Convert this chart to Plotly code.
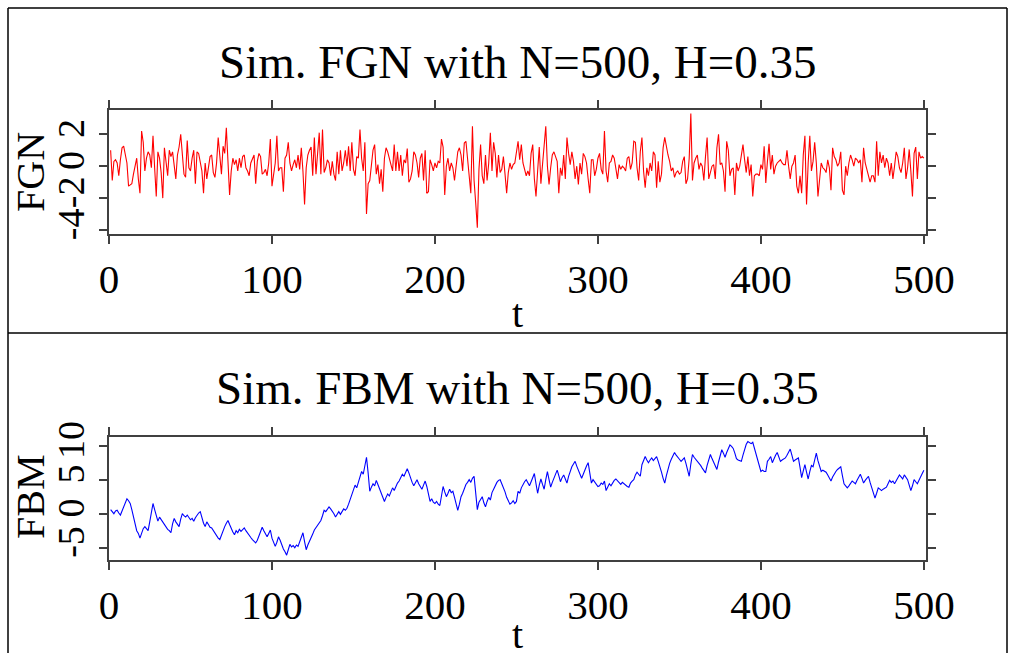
import plotly.graph_objects as go

# ---------------- data ----------------
fgn = [
    1.0, -0.9, 0.3, 0.4, 0.2, -0.6, 0.4, 1.15, 1.25, 0.6,
    0.2, -1.25, -1.2, -1.1, -0.5, 0.1, 0.5, -0.8, -1.7, 2.2,
    1.5, -0.3, 0.5, 0.9, 0.7, -0.1, 1.9, -0.1, -1.9, 0.9,
    0.5, -0.4, -2.0, 1.15, 0.1, -0.6, 1.0, 0.6, 0.9, 0.2,
    -0.8, 0.7, 1.2, 2.0, 0.5, -0.5, -0.7, 1.6, -0.1, -0.3,
    0.5, 1.0, -1.1, 0.9, 0.8, 0.2, -0.3, -1.7, 0.2, -0.8,
    -0.1, 0.6, 0.7, -0.4, -0.7, 0.2, 1.8, 0.7, -0.5, 1.25,
    0.8, 2.4, 0.3, -1.8, -0.3, 0.5, 0.1, 0.4, -0.3, 0.5,
    -0.1, 0.6, 0.7, -0.1,
    -0.3, -0.6, 0.2, 0.5, 0.7, -1.1, 0.3, 0.8, 0.6, -0.5,
    -0.4, -0.2, -0.6, 0.2, 1.7, -1.25, -0.5, 0.2, 1.9, -0.3,
    -0.1, -0.1, -1.6, 0.5, 0.7, 1.5, 0.2, -0.3, 0.1, 0.4,
    -0.1, 0.7, -0.2, 1.15, -0.3, -2.4, -0.1, 0.7, 1.0, 1.2,
    -0.6, 1.8, -0.5, 1.15, 2.1, -0.5, 2.3, -0.4, -0.1, 0.4,
    0.2, -0.6, 0.3, -0.5, -0.9, 0.9, -0.5, 1.0, -0.3, 0.2,
    1.0, 0.0, 1.25, -0.3, 1.5, -0.2, -0.6, 0.6, 0.5, 2.3,
    0.5, -0.3, 1.5, -3.0, -1.1, -0.9, 0.2, 1.0, 1.35, -0.5,
    0.1, -1.1, -0.2, -1.6, 0.5, 1.15,
    0.9, 0.4, 0.1, -0.3, 1.35, -0.3, 0.9, -0.3, 0.7, -0.6,
    0.4, 0.2, 1.1, -1.0, -0.8, -0.3, 0.9, 0.7, 0.2, -0.7,
    0.5, 0.8, -0.9, 1.0, -1.7, -1.6, 0.4, 0.1, -0.3, 0.2,
    -0.1, 0.3, 0.2, 1.7, 1.2, -1.8, 0.0, 0.5, -0.3, 0.2,
    -0.1, -0.9, 0.0, 0.9, 1.15, 0.7, -0.3, 1.45, 1.56, 0.5,
    -0.2, -1.7, 2.5, -0.9, -2.3, -3.85, -0.2, 1.35, -0.6, -1.1,
    0.7, -0.9, 0.2, 2.1, -0.3, 1.5, 0.8, -0.7, 0.7, -0.4,
    -0.2, 0.6, -0.5, -1.7, -0.4, 0.2, -0.2, 0.1, 0.2, 0.9,
    1.56, 0.4, 1.35, 0.2, -0.2,
    -0.6, -0.3, -0.6, 0.8, 1.35, -0.8, -1.9, -0.3, 1.2, -1.1,
    0.1, 1.6, 2.5, 0.0, -1.15, -0.1, 0.7, 0.9, 0.6, 0.3,
    -1.7, -0.1, -0.6, 0.7, -0.8, 1.8, 0.8, 0.1, 0.9, 0.3,
    -0.8, 0.0, -1.15, 0.2, -0.5, 0.8, 0.6, 0.2, -0.8, -1.7,
    0.4, 0.4, -0.6, -0.2, 0.5, 0.8, -0.2, -0.5, 2.2, -0.3,
    -1.0, 0.2, 0.3, 0.7, 0.5, -0.3, -0.8, 0.1, -0.2, 0.0,
    -0.1, -0.3, 0.5, 0.6, -0.2, 0.2, 1.56, 1.5, -0.1, -0.9,
    0.9, 1.8, -0.3, -1.35, -0.1, -0.6, 0.2, -0.3, 0.9, 0.7,
    -1.35, 0.3, -1.0, -0.5, 1.15, 1.8,
    1.1, 0.7, 0.3, -0.3, -0.1, -0.7, -0.4, -0.3, -0.5, -0.4,
    0.3, 0.6, -1.1, -0.8, 0.5, 3.3, -0.9, 0.2, 0.5, 0.7,
    -0.2, 0.2, 0.0, -0.9, 0.6, 1.8, -0.8, -0.3, 0.0, 0.1,
    -0.8, 1.15, 2.0, 0.1, 0.2, -0.3, -1.6, 1.56, 1.0, -0.6,
    -0.2, -0.1, -1.8, 0.2, -0.3, 0.0, 0.6, 1.35, 0.4, -0.4,
    0.6, -0.6, 0.1, -1.9, -0.6, -0.5, -0.5, -0.6, 0.1, -0.2,
    1.25, -1.05, 0.3, 1.4, -0.2, 0.7, -0.5, 0.0, 0.2, 0.3,
    0.4, 0.2, 0.1, 0.1, 1.0, 0.0, -0.8, 0.0, 0.2, 0.7,
    -1.25, -1.7, -0.6,
    -1.7, 0.7, 1.9, -2.4, 0.2, 1.9, -0.3, 0.3, 1.5, 0.2,
    -1.9, -0.9, 0.2, -0.1, -0.2, -0.4, 0.4, -0.1, -1.5, 1.15,
    0.6, 0.4, 0.0, 0.2, 0.9, -1.5, -1.8, 0.0, -0.6, 0.2,
    0.7, 0.4, 0.0, 0.5, 0.4, 0.2, 0.4, -1.0, 1.15, 0.2,
    -0.2, -0.6, -1.0, -0.6, -0.6, -1.0, 1.56, -0.6, 0.9, 0.2,
    0.7, -0.1, 0.5, 0.2, -0.6, 0.2, -0.8, 0.0, 0.9, 0.6,
    -0.1, -0.4, 0.2, 1.15, -0.8, -0.1, 1.05, -0.3, -1.9, 0.8,
    1.2, -0.8, 0.9, 0.5, 0.6, 0.5,
]

fbm = [
    0.6, 0.3, 0.0, 0.4, 0.5, 0.1, -0.2, 0.4, 1.0, 1.6,
    2.2, 1.9, 1.5, 0.6, -0.5, -1.4, -2.5, -2.9, -3.6, -2.9,
    -2.2, -1.9, -2.3, -2.5, -1.2, 0.2, 1.5, 0.6, -0.3, -1.1,
    -0.5, -0.9, -1.2, -1.5, -1.9, -2.3, -2.5, -2.8, -1.5, -0.7,
    -1.2, -1.6, -1.9, -0.8, 0.0, -0.3, -0.5, -0.2, -0.6, -0.9,
    -0.7, -1.1, -0.6, -0.2, 0.1, 0.3, -0.7, -1.4, -1.9, -1.2,
    -1.6, -2.0, -2.1, -2.5, -2.9, -3.3, -3.6, -3.8, -3.1, -2.4,
    -1.9, -1.4, -1.0, -1.6, -2.3, -2.7, -3.1, -2.5, -2.8, -2.3,
    -2.6, -2.4, -2.1, -2.5, -2.9, -3.3, -3.5, -3.8, -4.1, -4.3,
    -3.9, -3.2, -2.6, -2.0, -2.5, -2.9, -3.4, -2.9, -2.4, -3.6,
    -4.3, -4.8, -4.2, -3.4, -3.9, -4.6, -5.2, -5.6, -6.1, -5.3,
    -4.5, -4.9, -4.7, -5.0, -4.6, -4.8, -4.2, -3.5, -2.8, -4.1,
    -5.3, -4.6, -4.1, -3.7, -3.0, -2.4, -2.0, -1.6, -1.3, -1.0,
    -0.3, 0.5, 0.3, 0.7, 1.0, 0.7, 0.4, 0.0, -0.5, -0.1,
    0.3, -0.1, 0.4, 0.7, 0.5, 0.8, 1.4, 2.0, 2.9, 3.5,
    4.2, 3.8, 4.6, 5.3, 6.2, 5.8, 7.0, 8.3, 6.0, 3.3,
    3.9, 4.4, 4.1, 4.9, 4.3, 3.6, 2.9, 2.3, 1.8, 2.4,
    2.9, 2.6, 3.3, 3.8, 3.4, 4.1, 4.5, 4.8, 5.3, 5.8,
    5.5, 6.1, 6.6, 6.0, 5.2, 4.6, 4.1, 4.6, 5.0, 4.4,
    4.0, 3.6, 4.2, 4.8, 4.0, 2.8, 1.8, 2.2, 1.7, 1.5,
    1.8, 1.4, 1.2, 2.6, 4.0, 3.2, 2.5, 3.0, 3.6, 3.1,
    3.3, 2.4, 1.5, 0.5, 1.4, 2.5, 3.0, 3.6, 4.3, 4.6,
    5.0, 4.6, 5.2, 5.5, 3.0, 0.6, 1.7, 2.1, 2.5, 1.6,
    1.0, 1.8, 2.4, 2.0, 3.1, 3.6, 4.2, 4.6, 4.9, 5.0,
    4.4, 3.9, 3.2, 2.4, 1.9, 1.4, 1.6, 1.9, 1.5, 1.8,
    3.3, 3.0, 3.8, 4.3, 4.7, 5.0, 4.6, 4.1, 4.7, 5.4,
    5.9, 4.4, 3.0, 4.2, 5.1, 4.3, 3.6, 5.0, 6.2, 5.0,
    3.9, 4.6, 5.2, 5.8, 6.4, 5.6, 4.7, 5.3, 5.7, 5.1,
    4.5, 5.5, 6.4, 6.9, 7.3, 7.7, 7.0, 6.3, 5.7, 5.2,
    5.8, 6.5, 7.0, 7.5, 6.0, 4.5, 5.0, 4.7, 4.3, 4.0,
    4.1, 4.5, 4.3, 4.8, 3.4, 3.9, 4.4, 4.1, 4.6, 4.9,
    5.1, 4.8, 4.6, 4.3, 4.6, 4.4, 4.1, 4.0, 3.9, 4.5,
    4.8, 5.0, 5.7, 6.1, 5.8, 5.5, 7.2, 7.9, 8.4, 7.9,
    7.5, 7.9, 8.2, 7.8, 8.1, 8.4, 7.7, 7.0, 6.1, 5.2,
    4.5, 5.6, 6.7, 7.4, 8.0, 8.6, 9.0, 8.6, 8.2, 8.0,
    7.7, 7.9, 8.2, 7.4, 6.4, 5.5, 7.3, 8.7, 8.3, 8.0,
    7.7, 7.5, 7.1, 6.7, 6.3, 6.0, 7.1, 7.9, 8.7, 8.1,
    7.5, 7.0, 6.5, 7.6, 8.5, 9.4, 8.9, 8.3, 9.0, 9.6,
    10.1, 9.9, 9.6, 8.9, 8.1, 7.9, 7.8, 7.7, 8.6, 9.5,
    10.2, 10.6, 10.4, 10.3, 10.5, 9.6, 8.9, 8.2, 7.0, 6.2,
    6.4, 6.2, 6.2, 7.7, 8.0, 8.4, 7.5, 8.1, 8.6, 9.0,
    8.4, 7.7, 7.9, 8.0, 8.2, 8.6, 9.1, 9.5, 8.6, 7.7,
    7.9, 8.1, 8.2, 6.8, 5.3, 6.3, 7.2, 6.1, 5.1, 6.2,
    7.1, 6.9, 7.8, 8.9, 7.8, 7.0, 6.2, 6.4, 6.3, 6.1,
    5.7, 5.3, 4.8, 5.4, 5.9, 6.2, 6.5, 6.7, 6.9, 5.6,
    4.4, 4.1, 3.8, 4.1, 4.5, 4.8, 4.6, 4.4, 4.9, 5.3,
    5.8, 5.2, 4.5, 4.9, 5.2, 5.5, 4.6, 3.7, 3.0, 2.3,
    3.0, 3.8, 3.6, 3.4, 3.6, 3.7, 3.9, 4.4, 4.9, 4.6,
    4.8, 4.4, 4.9, 5.3, 5.7, 5.4, 5.1, 5.7, 5.3, 5.0,
    4.2, 3.4, 4.1, 5.0, 4.7, 4.4, 4.9, 5.5, 5.9, 6.4,
]

t_fgn = list(range(1, len(fgn) + 1))
t_fbm = list(range(1, len(fbm) + 1))

x_ticks = [0, 100, 200, 300, 400, 500]
x_ticktext = ["0", "100", "200", "300", "400", "500"]
fgn_ticks = [-4, -2, 0, 2]
fgn_ticktext = ["-4", "-2", "0", "2"]
fbm_ticks = [-5, 0, 5, 10]
fbm_ticktext = ["-5", "0", "5", "10"]

title_top = "Sim. FGN with N=500, H=0.35"
title_bot = "Sim. FBM with N=500, H=0.35"

# ---------------- figure ----------------
W, H = 1015, 653
SERIF = "Liberation Serif, Times New Roman, serif"
AX = "#404040"


def px(x):
    return x / W


def py(y):
    return 1 - y / H


fig = go.Figure()
fig.add_trace(go.Scatter(x=t_fgn, y=fgn, mode="lines",
                         line=dict(color="#ff0000", width=1.1),
                         xaxis="x", yaxis="y", hoverinfo="skip"))
fig.add_trace(go.Scatter(x=t_fbm, y=fbm, mode="lines",
                         line=dict(color="#0000ff", width=1.1),
                         xaxis="x2", yaxis="y2", hoverinfo="skip"))

common = dict(showline=True, linecolor=AX, linewidth=1.5, mirror="ticks",
              ticks="outside", ticklen=8, tickwidth=1.5, tickcolor=AX,
              showgrid=False, zeroline=False, automargin=False)
xfont = dict(family=SERIF, size=41, color="black")
yfont = dict(family=SERIF, size=38, color="black")

xdom = [px(109), px(926)]
fig.update_layout(
    width=W, height=H,
    margin=dict(l=0, r=0, t=0, b=0),
    paper_bgcolor="white", plot_bgcolor="white",
    showlegend=False,
    xaxis=dict(domain=xdom, range=[0, 501.3], tickvals=x_ticks,
               ticktext=x_ticktext, anchor="y", tickfont=xfont, **common),
    yaxis=dict(domain=[py(234), py(110)], range=[-4.25, 3.52],
               tickvals=fgn_ticks, ticktext=fgn_ticktext, tickangle=-90,
               anchor="x", tickfont=yfont, **common),
    xaxis2=dict(domain=xdom, range=[0, 501.3], tickvals=x_ticks,
                ticktext=x_ticktext, anchor="y2", tickfont=xfont, **common),
    yaxis2=dict(domain=[py(560), py(436.7)], range=[-6.81, 11.32],
                tickvals=fbm_ticks, ticktext=fbm_ticktext, tickangle=-90,
                anchor="x2", tickfont=yfont, **common),
)

ann = []
ann.append(dict(text=title_top, x=px(517.5), y=py(62), xref="paper", yref="paper",
                showarrow=False, font=dict(family=SERIF, size=47, color="black"),
                xanchor="center", yanchor="middle"))
ann.append(dict(text=title_bot, x=px(517.5), y=py(388), xref="paper", yref="paper",
                showarrow=False, font=dict(family=SERIF, size=47, color="black"),
                xanchor="center", yanchor="middle"))
ann.append(dict(text="t", x=px(517.5), y=py(313), xref="paper", yref="paper",
                showarrow=False, font=dict(family=SERIF, size=40, color="black"),
                xanchor="center", yanchor="middle"))
ann.append(dict(text="t", x=px(517.5), y=py(634), xref="paper", yref="paper",
                showarrow=False, font=dict(family=SERIF, size=40, color="black"),
                xanchor="center", yanchor="middle"))
ann.append(dict(text="FGN", x=px(30), y=py(172), xref="paper", yref="paper",
                showarrow=False, textangle=-90,
                font=dict(family=SERIF, size=40, color="black"),
                xanchor="center", yanchor="middle"))
ann.append(dict(text="FBM", x=px(30), y=py(497), xref="paper", yref="paper",
                showarrow=False, textangle=-90,
                font=dict(family=SERIF, size=40, color="black"),
                xanchor="center", yanchor="middle"))
fig.update_layout(annotations=ann)

# outer panel frames
frame = dict(type="line", xref="paper", yref="paper",
             line=dict(color="black", width=1.5))
shapes = [
    dict(frame, x0=px(8), x1=px(1007), y0=py(8), y1=py(8)),
    dict(frame, x0=px(8), x1=px(1007), y0=py(333), y1=py(333)),
    dict(frame, x0=px(8), x1=px(8), y0=py(8), y1=0),
    dict(frame, x0=px(1007), x1=px(1007), y0=py(8), y1=0),
]
fig.update_layout(shapes=shapes)

fig.write_html("out.html")
